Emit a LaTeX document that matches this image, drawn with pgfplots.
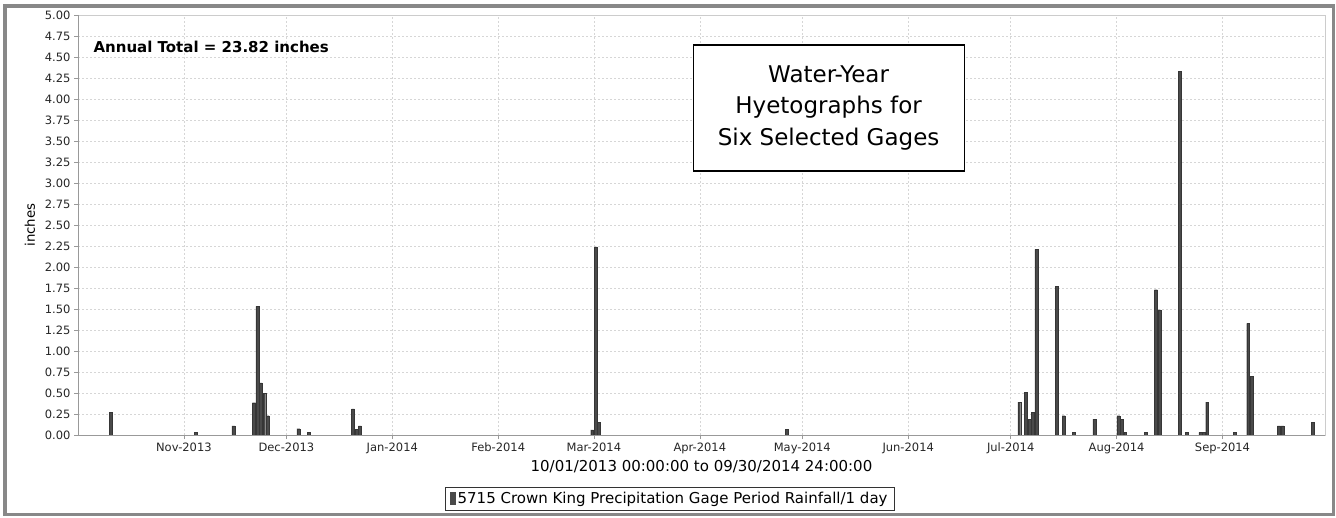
\documentclass[border=0pt]{standalone}
\usepackage{fontspec}
\setmainfont{DejaVu Sans}
\usepackage{pgfplots}
\usepackage{pgfplotstable}
\pgfplotsset{compat=1.18}
\definecolor{barcol}{HTML}{4A4A4A}
\definecolor{bardraw}{HTML}{363636}
\definecolor{framegray}{HTML}{888888}
\definecolor{gridgray}{HTML}{D6D6D6}
\definecolor{axgray}{HTML}{999999}
\definecolor{boxgray}{HTML}{CCCCCC}
\pgfplotstableread{
day val
9.5 0.27
34.5 0.03
45.5 0.11
51.5 0.385
52.5 1.53
53.5 0.62
54.5 0.50
55.5 0.23
64.5 0.075
67.5 0.03
80.5 0.31
81.5 0.07
82.5 0.11
150.5 0.06
151.5 2.24
152.5 0.15
207.5 0.07
275.5 0.39
277.5 0.51
278.5 0.19
279.5 0.27
280.5 2.21
286.5 1.77
288.5 0.23
291.5 0.03
297.5 0.19
304.5 0.23
305.5 0.19
306.5 0.03
312.5 0.03
315.5 1.73
316.5 1.49
322.5 4.33
324.5 0.03
328.5 0.03
329.5 0.03
330.5 0.39
338.5 0.03
342.5 1.33
343.5 0.70
351.5 0.11
352.5 0.11
361.5 0.15
}\raindata
\begin{document}
\begin{tikzpicture}[x=1pt,y=1pt]
\useasboundingbox (0,0) rectangle (1336,517);
\fill[white] (0,0) rectangle (1336,517);
\draw[framegray, line width=3.5pt] (5,2.5) rectangle (1333.5,511);
\begin{axis}[
  at={(78pt,82pt)}, anchor=south west,
  width=1247pt, height=420pt, scale only axis,
  xmin=0, xmax=365, ymin=0, ymax=5,
  ytick={0,0.25,0.5,0.75,1,1.25,1.5,1.75,2,2.25,2.5,2.75,3,3.25,3.5,3.75,4,4.25,4.5,4.75,5},
  xtick={31,61,92,123,151,182,212,243,273,304,335},
  xticklabels={Nov-2013,Dec-2013,Jan-2014,Feb-2014,Mar-2014,Apr-2014,May-2014,Jun-2014,Jul-2014,Aug-2014,Sep-2014},
  /pgf/number format/.cd, fixed, fixed zerofill, precision=2, assume math mode=true,
  /pgfplots/.cd,
  tick label style={font=\fontsize{11.5}{12}\selectfont, text=black!85},
  tick align=outside, tickpos=left,
  major tick length=4pt,
  every tick/.style={axgray, line width=0.6pt},
  axis line style={boxgray, line width=0.8pt},
  grid=major,
  major grid style={gridgray, dash pattern=on 2pt off 2pt, line width=0.5pt},
  xlabel={10/01/2013 00:00:00 to 09/30/2014 24:00:00},
  ylabel={inches},
  every axis x label/.style={at={(rel axis cs:0.5,0)}, yshift=-32pt, anchor=center, font=\fontsize{15}{16}\selectfont},
  every axis y label/.style={at={(rel axis cs:0,0.5)}, xshift=-48pt, anchor=center, rotate=90, font=\fontsize{13.3}{14}\selectfont},
  legend style={at={(0.4747,-0.1524)}, anchor=center, draw=black!80, line width=0.8pt,
    font=\fontsize{15}{16}\selectfont, inner xsep=5pt, inner ysep=3pt},
  legend cell align=left,
]
\addplot[ybar, bar width=0.85, bar shift=0pt, fill=barcol, draw=bardraw, line width=0.3pt,
  legend image code/.code={\fill[barcol] (0pt,-5.5pt) rectangle (5pt,6.5pt);}]
  table[x=day, y=val] {\raindata};
\addlegendentry{5715 Crown King Precipitation Gage Period Rainfall/1 day}
\draw[axgray, line width=0.8pt] (rel axis cs:0,1) -- (rel axis cs:0,0) -- (rel axis cs:1,0);
\node[anchor=west, font=\bfseries\fontsize{15}{16}\selectfont] at ([xshift=12pt]axis cs:0,4.619) {Annual Total = 23.82 inches};
\node[draw=black, line width=1.2pt, fill=white, minimum width=271pt, minimum height=126pt, align=center,
  font=\fontsize{23}{31.5}\selectfont] at (axis cs:219.7,3.893) {Water-Year\\Hyetographs for\\Six Selected Gages};
\end{axis}
\end{tikzpicture}
\end{document}
